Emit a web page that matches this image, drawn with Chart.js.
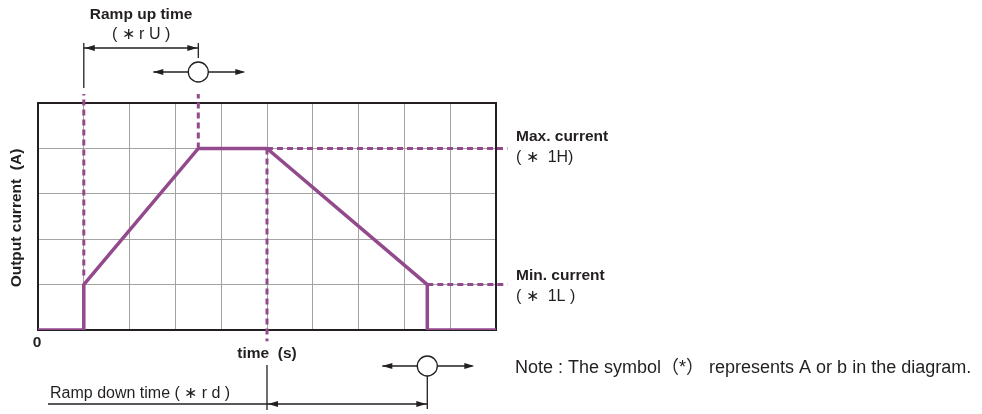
<!DOCTYPE html>
<html>
<head>
<meta charset="utf-8">
<script src="https://cdn.jsdelivr.net/npm/chart.js@4.4.1/dist/chart.umd.min.js"></script>
<style>
  html, body { margin: 0; padding: 0; background: #fff; }
  #wrap { width: 982px; height: 414px; position: relative; }
</style>
</head>
<body>
<div id="wrap"><canvas id="c"></canvas></div>
<script>
// output current profile (time, current) in grid units
const profileX = [0, 1, 1, 3.5, 5, 8.5, 8.5, 10];
const profileY = [0, 0, 1, 4, 4, 1, 0, 0];
// dotted guide lines
const guides = [
  { x: [1, 1], y: [1.2, 5.2] },
  { x: [3.5, 3.5], y: [4, 5.2] },
  { x: [5, 5], y: [4, -0.25] },
  { x: [5, 10.25], y: [4, 4] },
  { x: [8.5, 10.25], y: [1, 1] },
];
const xMax = 10;
const yMax = 5;

const purple = "#934a8c";
const ink = "#231f20";
const bold = "bold 15.5px 'Liberation Sans', Arial, sans-serif";
const reg = "16px 'Liberation Sans', Arial, sans-serif";

function pts(xs, ys) {
  return xs.map((x, i) => ({ x, y: ys[i] }));
}

const datasets = [
  {
    data: pts(profileX, profileY),
    borderColor: purple,
    borderWidth: 3.5,
    pointRadius: 0,
    borderJoinStyle: "miter",
    order: 0,
  },
].concat(
  guides.map((g) => ({
    data: pts(g.x, g.y),
    borderColor: purple,
    borderWidth: 3,
    borderDash: [6, 4],
    pointRadius: 0,
    clip: false,
    order: 1,
  })),
);

function arrowHead(ctx, x, y, dir) {
  ctx.beginPath();
  ctx.moveTo(x, y);
  ctx.lineTo(x - dir * 10, y - 3);
  ctx.lineTo(x - dir * 10, y + 3);
  ctx.closePath();
  ctx.fill();
}

function line(ctx, x1, y1, x2, y2) {
  ctx.beginPath();
  ctx.moveTo(x1, y1);
  ctx.lineTo(x2, y2);
  ctx.stroke();
}

function knob(ctx, cx, cy) {
  line(ctx, cx - 45, cy, cx + 45, cy);
  arrowHead(ctx, cx - 45, cy, -1);
  arrowHead(ctx, cx + 47, cy, 1);
  ctx.beginPath();
  ctx.arc(cx, cy, 10, 0, Math.PI * 2);
  ctx.fillStyle = "#fff";
  ctx.fill();
  ctx.stroke();
  ctx.fillStyle = ink;
}

const decor = {
  id: "decor",
  beforeDatasetsDraw(chart) {
    const { ctx, chartArea: a } = chart;
    ctx.save();
    ctx.strokeStyle = ink;
    ctx.lineWidth = 2;
    ctx.strokeRect(a.left, a.top, a.right - a.left, a.bottom - a.top);
    ctx.restore();
  },
  afterDraw(chart) {
    const { ctx, chartArea: a, scales } = chart;
    const xs = scales.x;
    const xUp0 = xs.getPixelForValue(profileX[1]);
    const xUp1 = xs.getPixelForValue(profileX[3]);
    const xDn0 = xs.getPixelForValue(profileX[4]);
    const xDn1 = xs.getPixelForValue(profileX[5]);
    ctx.save();
    ctx.strokeStyle = ink;
    ctx.fillStyle = ink;
    ctx.lineWidth = 1.3;

    // ramp up time
    line(ctx, xUp0, a.top - 60, xUp0, a.top - 15);
    line(ctx, xUp1, a.top - 60, xUp1, a.top - 45);
    line(ctx, xUp0, a.top - 55, xUp1, a.top - 55);
    arrowHead(ctx, xUp0 + 1, a.top - 55, -1);
    arrowHead(ctx, xUp1 - 1, a.top - 55, 1);
    knob(ctx, xUp1, a.top - 31);

    // ramp down time
    line(ctx, xDn0, a.bottom + 35, xDn0, a.bottom + 80);
    line(ctx, xDn1, a.bottom + 46, xDn1, a.bottom + 79);
    line(ctx, 48, a.bottom + 74, xDn1, a.bottom + 74);
    arrowHead(ctx, xDn0 + 1, a.bottom + 74, -1);
    arrowHead(ctx, xDn1 - 1, a.bottom + 74, 1);
    knob(ctx, xDn1, a.bottom + 36);

    // texts
    ctx.fillStyle = ink;
    ctx.textBaseline = "alphabetic";
    ctx.font = bold;
    ctx.textAlign = "center";
    ctx.fillText("Ramp up time", (xUp0 + xUp1) / 2, 19);
    ctx.fillText("time  (s)", xDn0, a.bottom + 28);
    ctx.fillText("0", a.left - 1, a.bottom + 17);
    ctx.font = reg;
    ctx.fillText("( ∗ r U )", (xUp0 + xUp1) / 2, 39);

    ctx.textAlign = "left";
    ctx.font = bold;
    ctx.fillText("Max. current", 516, 141);
    ctx.fillText("Min. current", 516, 280);
    ctx.font = reg;
    ctx.fillText("( ∗  1H)", 516, 162);
    ctx.fillText("( ∗  1L )", 516, 301);
    ctx.fillText("Ramp down time ( ∗ r d )", 50, a.bottom + 68);
    ctx.font = "18px 'Liberation Sans', Arial, 'Noto Sans CJK JP', sans-serif";
    ctx.fillText("Note : The symbol（*） represents A or b in the diagram.", 515, a.bottom + 43);

    ctx.translate(21, 218);
    ctx.rotate(-Math.PI / 2);
    ctx.textAlign = "center";
    ctx.font = bold;
    ctx.fillText("Output current  (A)", 0, 0);
    ctx.restore();
  },
};

new Chart(document.getElementById("c"), {
  type: "line",
  data: { datasets },
  plugins: [decor],
  options: {
    responsive: true,
    maintainAspectRatio: false,
    animation: false,
    layout: { padding: { left: 38, right: 486, top: 103, bottom: 84 } },
    plugins: { legend: { display: false }, tooltip: { enabled: false } },
    scales: {
      x: {
        type: "linear",
        min: 0,
        max: xMax,
        ticks: { display: false, stepSize: 1 },
        grid: { color: "#a3a3a3", lineWidth: 1, drawTicks: false },
        border: { display: false },
      },
      y: {
        type: "linear",
        min: 0,
        max: yMax,
        ticks: { display: false, stepSize: 1 },
        grid: { color: "#a3a3a3", lineWidth: 1, drawTicks: false },
        border: { display: false },
      },
    },
  },
});
</script>
</body>
</html>
